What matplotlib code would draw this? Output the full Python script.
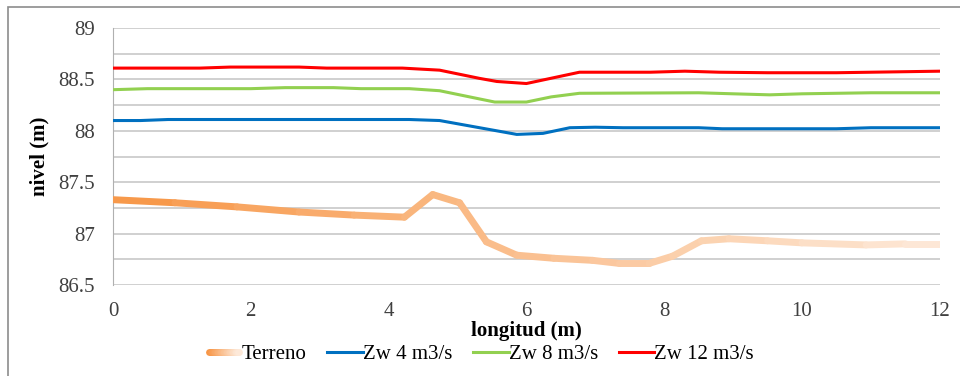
import numpy as np
import matplotlib.pyplot as plt
from matplotlib.collections import LineCollection
from matplotlib.colors import LinearSegmentedColormap
from matplotlib.legend_handler import HandlerBase
from matplotlib.lines import Line2D
from matplotlib.patches import Rectangle

# terrain profile
terreno_x = [0, 0.9, 1.8, 2.7, 3.5, 4.23, 4.64, 5.03, 5.42, 5.86, 6.4, 6.96, 7.35,
             7.78, 8.12, 8.54, 8.94, 9.5, 10.0, 10.93, 11.5, 12]
terreno_y = [87.33, 87.30, 87.26, 87.21, 87.18, 87.16, 87.38, 87.30, 86.92, 86.79, 86.76,
             86.74, 86.71, 86.71, 86.78, 86.93, 86.95, 86.93, 86.91, 86.89, 86.90, 86.90]

# water levels
zw4_x = [0, 0.4, 0.8, 4.3, 4.74, 5.32, 5.86, 6.24, 6.63, 7.0, 7.4, 8.5, 8.84, 10.5, 11.0, 12]
zw4_y = [88.10, 88.10, 88.11, 88.11, 88.10, 88.03, 87.965, 87.975, 88.03, 88.035, 88.03,
         88.03, 88.02, 88.02, 88.03, 88.03]

zw8_x = [0, 0.5, 2.0, 2.5, 3.2, 3.6, 4.3, 4.74, 5.32, 5.54, 6.0, 6.36, 6.77, 8.5, 9.0,
         9.53, 10.0, 11.0, 12]
zw8_y = [88.40, 88.41, 88.41, 88.42, 88.42, 88.41, 88.41, 88.39, 88.31, 88.28, 88.28,
         88.33, 88.365, 88.37, 88.36, 88.35, 88.36, 88.37, 88.37]

zw12_x = [0, 1.26, 1.7, 2.7, 3.1, 4.2, 4.74, 5.32, 5.57, 6.0, 6.77, 7.8, 8.3, 8.8, 9.5,
          10.5, 11.0, 12]
zw12_y = [88.61, 88.61, 88.62, 88.62, 88.61, 88.61, 88.59, 88.51, 88.48, 88.46, 88.57,
          88.57, 88.58, 88.57, 88.565, 88.565, 88.57, 88.58]

labels = ["Terreno", "Zw 4 m3/s", "Zw 8 m3/s", "Zw 12 m3/s"]

plt.rcParams['font.family'] = ['Liberation Serif', 'DejaVu Serif']

grad = LinearSegmentedColormap.from_list("terreno", ["#F79646", "#FDE9D9"])


class GradientHandler(HandlerBase):
    # draws the terrain legend key as a short gradient bar
    def create_artists(self, legend, orig_handle, xdescent, ydescent, width, height,
                       fontsize, trans):
        n = 20
        xs = np.linspace(-xdescent + 2, width - xdescent - 2, n + 1)
        yc = height / 2 - ydescent
        segs = [[(xs[i], yc), (xs[i + 1], yc)] for i in range(n)]
        lc = LineCollection(segs, colors=grad(np.linspace(0, 1, n)), linewidths=5,
                            capstyle='round', transform=trans)
        return [lc]


fig = plt.figure(figsize=(9.6, 3.76), dpi=100)
ax = fig.add_axes([0.1177, 0.242, 0.8613, 0.6835])

# outer chart frame
fig.patches.append(Rectangle((8 / 960, -0.1), 1.2, 1 - 7 / 376 + 0.1, transform=fig.transFigure,
                             fill=False, edgecolor='#8c8c8c', linewidth=1.2))

# terrain with fading colour
pts = np.column_stack([terreno_x, terreno_y])
segs = np.stack([pts[:-1], pts[1:]], axis=1)
mid = (np.array(terreno_x[:-1]) + np.array(terreno_x[1:])) / 2 / 12
lc = LineCollection(segs, colors=grad(mid), linewidths=5, capstyle='round',
                    joinstyle='round', zorder=3)
ax.add_collection(lc)

ax.plot(zw4_x, zw4_y, color='#0070C0', lw=2.2, zorder=4)
ax.plot(zw8_x, zw8_y, color='#92D050', lw=2.2, zorder=4)
ax.plot(zw12_x, zw12_y, color='#FF0000', lw=2.2, zorder=4)

ax.set_xlim(0, 12)
ax.set_ylim(86.5, 89)
ax.set_xticks(range(0, 13, 2))
ax.set_yticks([86.5, 87, 87.5, 88, 88.5, 89])
ax.set_yticklabels(["86.5", "87", "87.5", "88", "88.5", "89"])
ax.set_yticks(np.arange(86.75, 89, 0.5), minor=True)
ax.grid(axis='y', which='both', color='#c8c8c8', lw=1.2)
ax.set_axisbelow(True)
for s in ['top', 'right', 'bottom']:
    ax.spines[s].set_visible(False)
ax.spines['left'].set_color('#b0b0b0')
ax.tick_params(which='both', length=0, labelsize=15, colors='#404040')
ax.tick_params(axis='x', pad=12)
ax.tick_params(axis='y', pad=13)

ax.set_xlabel("longitud (m)", fontsize=15, fontweight='bold', labelpad=0)
ax.set_ylabel("nivel (m)", fontsize=15, fontweight='bold', labelpad=6)

handles = [Rectangle((0, 0), 1, 1),
           Line2D([], [], color='#0070C0', lw=2.2),
           Line2D([], [], color='#92D050', lw=2.2),
           Line2D([], [], color='#FF0000', lw=2.2)]
fig.legend(handles, labels, loc='center', bbox_to_anchor=(0.5, 0.058), ncol=4,
           frameon=False, fontsize=15, handlelength=1.7, handletextpad=0.0,
           columnspacing=1.0, handler_map={Rectangle: GradientHandler()})

fig.savefig("out.png", dpi=100)
